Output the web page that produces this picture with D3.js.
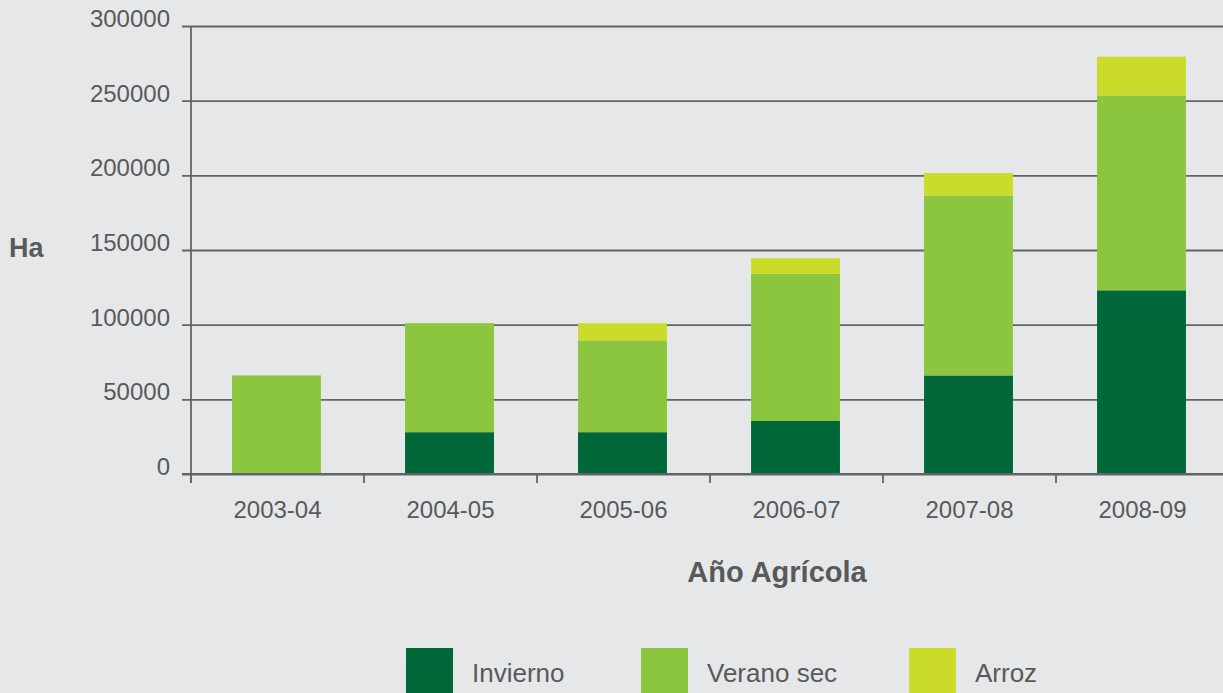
<!DOCTYPE html>
<html>
<head>
<meta charset="utf-8">
<script src="https://cdn.jsdelivr.net/npm/d3@7/dist/d3.min.js"></script>
<style>
  html, body { margin: 0; padding: 0; background: #e6e7e8; overflow: hidden; }
  svg { display: block; font-family: "Liberation Sans", Arial, Helvetica, sans-serif; }
</style>
</head>
<body>
<svg id="chart" width="1223" height="693"></svg>
<script>
// Agricultural years on the x axis
const years = ["2003-04", "2004-05", "2005-06", "2006-07", "2007-08", "2008-09"];

// Hectares per season (stacked bottom to top)
const invierno  = [0, 28000, 28000, 35500, 66000, 123000];
const veranoSec = [66000, 73000, 61500, 98500, 120500, 130500];
const arroz     = [0, 0, 11500, 10500, 15000, 26000];

const seriesNames = ["Invierno", "Verano sec", "Arroz"];
const seriesColors = ["#006838", "#8cc63f", "#cbdb2a"];
const yTicks = [0, 50000, 100000, 150000, 200000, 250000, 300000];

const W = 1223, H = 693;
const svg = d3.select("#chart");
const textColor = "#58595b";
const lineColor = "#636466";

svg.append("rect").attr("width", W).attr("height", H).attr("fill", "#e6e7e8");

const rows = years.map((y, i) => ({
  year: y, "Invierno": invierno[i], "Verano sec": veranoSec[i], "Arroz": arroz[i]
}));
const stacked = d3.stack().keys(seriesNames)(rows);

const plotLeft = 191, plotRight = 1229, plotTop = 26, plotBottom = 474;

const x = d3.scaleBand().domain(years).range([plotLeft, plotRight]).paddingInner(0).paddingOuter(0);
const y = d3.scaleLinear().domain([0, 300000]).range([plotBottom, plotTop]);
const barW = x.bandwidth() * 0.514;

// Horizontal gridlines with left tick marks
const yAxis = d3.axisLeft(y)
  .tickValues(yTicks)
  .tickFormat(d3.format("d"))
  .tickSize(-(W - plotLeft + 20))
  .tickSizeOuter(0)
  .tickPadding(12);
const gy = svg.append("g").attr("transform", `translate(${plotLeft},0)`).call(yAxis);
gy.select(".domain").remove();
gy.selectAll(".tick line")
  .attr("x1", -9)
  .attr("stroke", lineColor).attr("stroke-width", 1.8);
gy.selectAll(".tick text")
  .attr("fill", textColor).attr("font-size", 24)
  .attr("x", -21).attr("dy", "0.02em");

// Stacked bars
svg.append("g").selectAll("g")
  .data(stacked)
  .join("g")
  .attr("fill", (d, i) => seriesColors[i])
  .selectAll("rect")
  .data(d => d)
  .join("rect")
  .attr("x", d => x(d.data.year) + (x.bandwidth() - barW) / 2 - 1)
  .attr("width", barW)
  .attr("y", d => y(d[1]))
  .attr("height", d => y(d[0]) - y(d[1]));

// Baseline redrawn over bars
svg.append("line")
  .attr("x1", plotLeft - 9).attr("x2", W)
  .attr("y1", y(0)).attr("y2", y(0))
  .attr("stroke", lineColor).attr("stroke-width", 1.8);

// Vertical axis line
svg.append("line")
  .attr("x1", plotLeft).attr("x2", plotLeft)
  .attr("y1", plotTop).attr("y2", plotBottom + 9)
  .attr("stroke", lineColor).attr("stroke-width", 1.8);

// Category boundary ticks below the baseline
const boundaries = years.map(c => x(c)).concat([x(years[years.length - 1]) + x.bandwidth()]);
svg.append("g").selectAll("line")
  .data(boundaries)
  .join("line")
  .attr("x1", d => d).attr("x2", d => d)
  .attr("y1", plotBottom).attr("y2", plotBottom + 9)
  .attr("stroke", lineColor).attr("stroke-width", 1.8);

// Category labels
svg.append("g").selectAll("text")
  .data(years)
  .join("text")
  .attr("x", d => x(d) + x.bandwidth() / 2)
  .attr("y", 518)
  .attr("text-anchor", "middle")
  .attr("fill", textColor).attr("font-size", 24)
  .text(d => d);

// Axis titles
svg.append("text")
  .attr("x", 9).attr("y", 257)
  .attr("fill", textColor).attr("font-size", 27).attr("font-weight", "bold")
  .text("Ha");

svg.append("text")
  .attr("x", 777).attr("y", 582)
  .attr("text-anchor", "middle")
  .attr("fill", textColor).attr("font-size", 29).attr("font-weight", "bold")
  .text("Año Agrícola");

// Legend
const legendX = [406, 641, 909];
const legend = svg.append("g").selectAll("g")
  .data(seriesNames)
  .join("g")
  .attr("transform", (d, i) => `translate(${legendX[i]},648)`);
legend.append("rect")
  .attr("width", 47).attr("height", 47)
  .attr("fill", (d, i) => seriesColors[i]);
legend.append("text")
  .attr("x", 66).attr("y", 34)
  .attr("fill", textColor).attr("font-size", 26)
  .text(d => d);
</script>
</body>
</html>
